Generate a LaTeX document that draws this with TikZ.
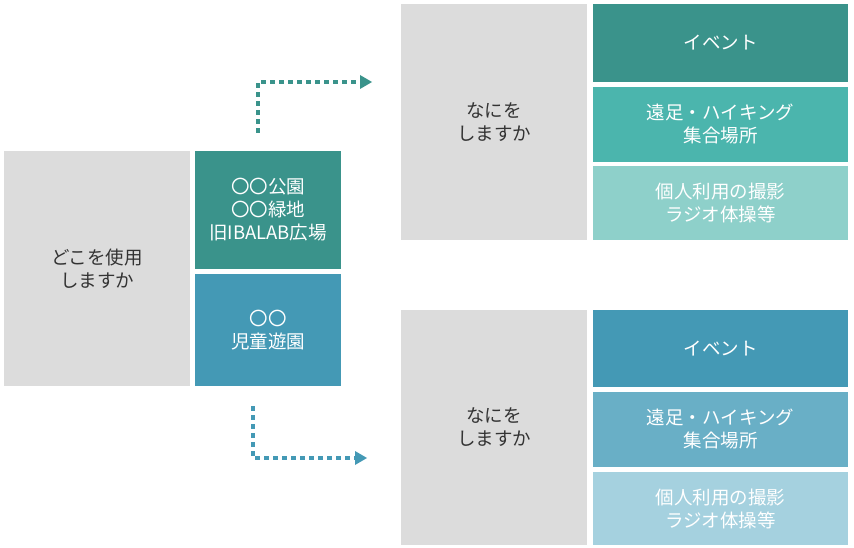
\documentclass[tikz,border=0pt]{standalone}
\usepackage{fontspec}
\setmainfont{Noto Sans CJK JP}
\usetikzlibrary{arrows.meta}
\definecolor{gr}{HTML}{DCDCDC}
\definecolor{tA}{HTML}{3A938B}
\definecolor{tB}{HTML}{4BB5AD}
\definecolor{tC}{HTML}{8ED0CA}
\definecolor{bA}{HTML}{4499B5}
\definecolor{bB}{HTML}{69AFC6}
\definecolor{bC}{HTML}{A5D1DF}
\definecolor{tx}{HTML}{333333}
\tikzset{
 bx/.style={inner sep=0pt,outer sep=0pt,align=center,font=\fontsize{18.5}{23}\selectfont},
 gbox/.style={bx,fill=gr,text=tx},
 cbox/.style={bx,text=white},
 arr/.style={line width=4.5pt,dash pattern=on 4.5pt off 4.5pt,-{Triangle[length=12pt,width=14pt,line width=0pt]}}
}
\begin{document}
\begin{tikzpicture}[x=1pt,y=1pt]
\useasboundingbox (0,0) rectangle (854,-548);
\node[gbox,minimum width=186,minimum height=235] (where) at (97,-268.5) {どこを使用\\しますか};
\node[cbox,fill=tA,minimum width=146,minimum height=118] (park) at (268,-210) {〇〇公園\\〇〇緑地\\旧IBALAB広場};
\node[cbox,fill=bA,minimum width=146,minimum height=112] (kids) at (268,-330) {〇〇\\児童遊園};
\node[gbox,minimum width=186,minimum height=236] (q1) at (494,-122) {なにを\\しますか};
\node[cbox,fill=tA,minimum width=255,minimum height=78] (e1) at (720.5,-43) {イベント};
\node[cbox,fill=tB,minimum width=255,minimum height=75] (h1) at (720.5,-124.5) {遠足・ハイキング\\集合場所};
\node[cbox,fill=tC,minimum width=255,minimum height=74] (p1) at (720.5,-203) {個人利用の撮影\\ラジオ体操等};
\node[gbox,minimum width=186,minimum height=235] (q2) at (494,-427.5) {なにを\\しますか};
\node[cbox,fill=bA,minimum width=255,minimum height=77] (e2) at (720.5,-348.5) {イベント};
\node[cbox,fill=bB,minimum width=255,minimum height=75] (h2) at (720.5,-429.5) {遠足・ハイキング\\集合場所};
\node[cbox,fill=bC,minimum width=255,minimum height=73] (p2) at (720.5,-508.5) {個人利用の撮影\\ラジオ体操等};
\coordinate (s1) at (258,-133);
\coordinate (c1) at (258,-82);
\coordinate (t1) at (372,-82);
\coordinate (s2) at (253,-406);
\coordinate (c2) at (253,-458);
\coordinate (t2) at (367,-458);
\draw[arr,draw=tA] (s1) -- (c1) -- (t1);
\draw[arr,draw=bA] (s2) -- (c2) -- (t2);
\end{tikzpicture}
\end{document}
